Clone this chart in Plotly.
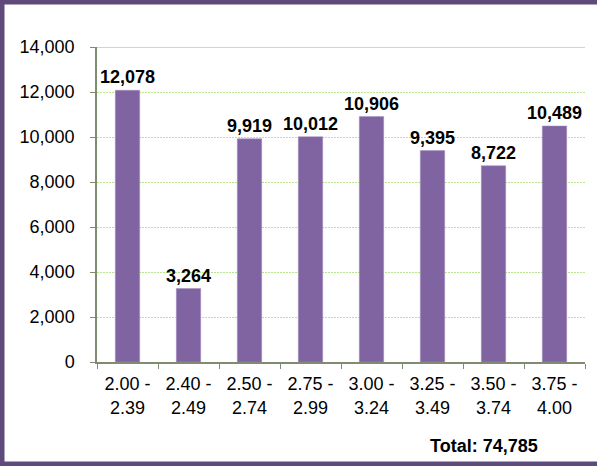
import plotly.graph_objects as go

categories = ["2.00 -<br>2.39", "2.40 -<br>2.49", "2.50 -<br>2.74", "2.75 -<br>2.99",
              "3.00 -<br>3.24", "3.25 -<br>3.49", "3.50 -<br>3.74", "3.75 -<br>4.00"]
values = [12078, 3264, 9919, 10012, 10906, 9395, 8722, 10489]
y_ticks = [0, 2000, 4000, 6000, 8000, 10000, 12000, 14000]
total_label = "Total: 74,785"

W, H = 597, 466
ML, MR, MT, MB = 97, 12, 47, 104
PW, PH = W - ML - MR, H - MT - MB

def px_x(p):
    return (p - ML) / PW

def px_y(p):
    return (H - MB - p) / PH

FONT = "Liberation Sans, Arial, sans-serif"
BORDER = "#5F4A7D"
AXIS = "#7F8C72"

fig = go.Figure(go.Bar(
    x=categories, y=values,
    marker=dict(color="#8064A2", line=dict(color="#A08CBE", width=0.5)),
    text=[f"{v:,}" for v in values],
    textposition="outside",
    constraintext="none",
    textfont=dict(family=FONT, size=18, color="black", weight="bold"),
    cliponaxis=False,
    hoverinfo="skip",
))

shapes = [
    dict(type="line", xref="paper", yref="y", x0=0, x1=1, y0=14000, y1=14000,
         line=dict(color="#A8E07A", width=1.5), layer="below"),
    dict(type="rect", xref="paper", yref="paper", x0=px_x(0), x1=px_x(W), y0=px_y(0), y1=px_y(4.5),
         fillcolor=BORDER, line=dict(width=0)),
    dict(type="rect", xref="paper", yref="paper", x0=px_x(0), x1=px_x(4.5), y0=px_y(0), y1=px_y(H),
         fillcolor=BORDER, line=dict(width=0)),
    dict(type="rect", xref="paper", yref="paper", x0=px_x(0), x1=px_x(W), y0=px_y(461.5), y1=px_y(H),
         fillcolor=BORDER, line=dict(width=0)),
]

fig.update_layout(
    width=W, height=H,
    margin=dict(l=ML, r=MR, t=MT, b=MB),
    paper_bgcolor="white", plot_bgcolor="white",
    bargap=0.6,
    showlegend=False,
    font=dict(family=FONT, size=18, color="black"),
    shapes=shapes,
    annotations=[dict(text=total_label, xref="paper", yref="paper",
                      x=px_x(484), y=px_y(446), xanchor="center", yanchor="middle",
                      showarrow=False, font=dict(family=FONT, size=18, color="black", weight="bold"))],
)

fig.update_xaxes(
    showline=True, linecolor=AXIS, linewidth=1.5,
    ticks="outside", tickson="boundaries", ticklen=5, tickcolor=AXIS,
    ticklabelstandoff=5,
    tickfont=dict(family=FONT, size=18, color="black"),
    showgrid=False,
)
fig.update_yaxes(
    range=[0, 14000], tickvals=y_ticks, tickformat=",",
    showline=True, linecolor=AXIS, linewidth=1.5,
    ticks="outside", ticklen=5, tickcolor=AXIS,
    ticklabelstandoff=12,
    tickfont=dict(family=FONT, size=18, color="black"),
    showgrid=True, gridcolor="#B8E48E", griddash="2px,1px", gridwidth=1,
    zeroline=False,
)

fig.write_html("out.html", config={"displayModeBar": False},
               post_script="document.body.style.margin='0';document.body.style.overflow='hidden';")
